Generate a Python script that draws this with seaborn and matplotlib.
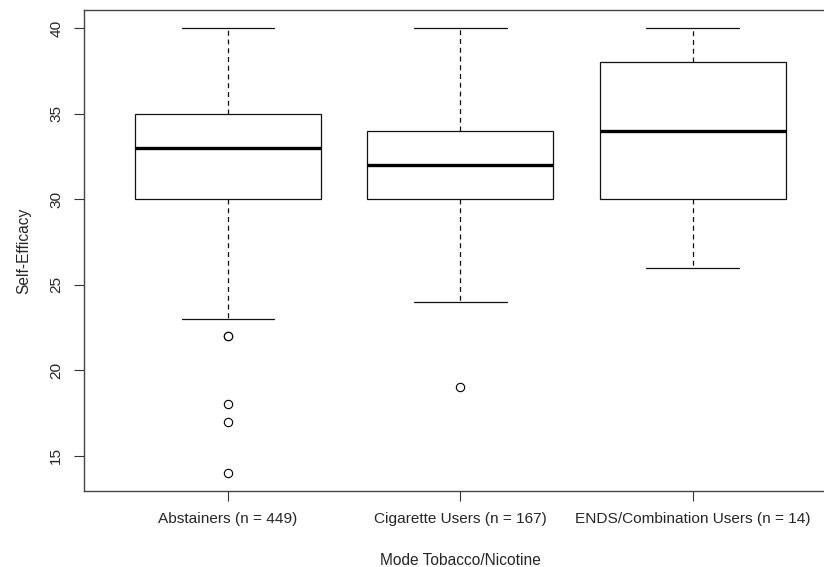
import matplotlib
matplotlib.use("Agg")
import matplotlib.pyplot as plt
import pandas as pd
import seaborn as sns

# five-number summaries (R-style boxplot)
groups = ["Abstainers (n = 449)", "Cigarette Users (n = 167)",
          "ENDS/Combination Users (n = 14)"]
whisker_low = [23, 24, 26]
q1 = [30, 30, 30]
medians = [33, 32, 34]
q3 = [35, 34, 38]
whisker_high = [40, 40, 40]

outlier_groups = [groups[0]] * 5 + [groups[1]]
outlier_values = [22, 22, 18, 17, 14, 19]

rows = []
for g, lo, a, m, b, hi in zip(groups, whisker_low, q1, medians, q3, whisker_high):
    for v in (lo, a, m, b, hi):
        rows.append({"group": g, "value": v})
df = pd.DataFrame(rows)

sns.set_style("white")
plt.rcParams["font.family"] = ["Liberation Sans", "DejaVu Sans"]

fig = plt.figure(figsize=(8.24, 5.67), dpi=100)
ax = fig.add_axes([0.1019, 0.1346, 0.9136, 0.8469])

sns.boxplot(data=df, x="group", y="value", order=groups, ax=ax,
            width=0.8, color="white", linecolor="#111111", linewidth=0.9,
            showfliers=False,
            whiskerprops={"linestyle": (0, (4, 3))},
            medianprops={"linewidth": 2.4, "color": "black"})

sns.stripplot(x=outlier_groups, y=outlier_values, order=groups, ax=ax,
              jitter=False, marker="o", size=6, color="white",
              edgecolor="black", linewidth=0.8)

ax.set_xlim(-0.62, 2.62)
ax.set_ylim(12.96, 41.04)
ax.set_yticks([15, 20, 25, 30, 35, 40])
ax.set_yticklabels(["15", "20", "25", "30", "35", "40"], rotation=90, va="center")

ax.set_xlabel("Mode Tobacco/Nicotine", fontsize=11.2, labelpad=20)
ax.set_ylabel("Self-Efficacy", fontsize=11.2, labelpad=13)
ax.tick_params(axis="both", direction="out", length=7, width=0.8,
               color="#333333", labelsize=11.1, pad=8, left=True, bottom=True)

for s in ax.spines.values():
    s.set_visible(True)
    s.set_color("#444444")
    s.set_linewidth(1)

fig.savefig("out.png", dpi=100)
